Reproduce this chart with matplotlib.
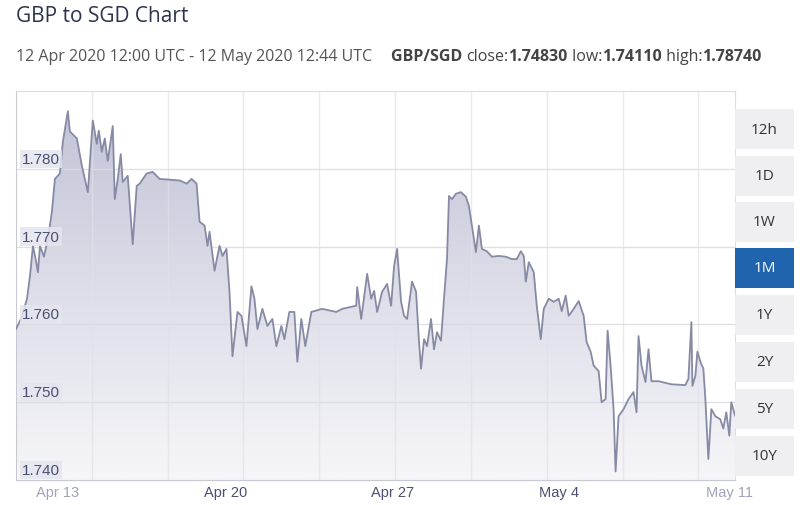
import numpy as np
import matplotlib
matplotlib.use("Agg")
import matplotlib.pyplot as plt
from matplotlib import font_manager
from matplotlib.colors import LinearSegmentedColormap
from matplotlib.patches import Rectangle

# hours since 12 Apr 2020 12:00 UTC
hours = [0, 6, 11, 14, 17, 20, 22, 24, 28, 32, 36, 39, 44, 47, 52, 54, 61, 66, 72, 77,
         81, 83, 86, 89, 92, 97, 99, 102, 105, 107, 112, 117, 121, 124, 131, 137, 144, 164, 171, 176,
         181, 184, 189, 192, 194, 199, 204, 207, 211, 214, 217, 222, 226, 231, 236, 239, 242, 247, 252, 257,
         261, 266, 269, 274, 279, 282, 286, 290, 296, 307, 321, 327, 341, 342, 346, 352, 356, 359, 362, 367,
         372, 376, 379, 382, 386, 389, 392, 397, 401, 404, 406, 409, 412, 416, 419, 422, 426, 429, 432, 434,
         437, 441, 446, 451, 454, 457, 461, 464, 467, 472, 477, 484, 491, 497, 502, 506, 509, 511, 514, 519,
         522, 526, 529, 534, 539, 544, 547, 551, 554, 559, 564, 569, 572, 576, 579, 584, 587, 591, 593, 596,
         599, 601, 604, 609, 614, 619, 622, 624, 627, 631, 634, 637, 644, 657, 671, 674, 677, 678, 681, 683,
         686, 689, 691, 694, 697, 701, 706, 709, 712, 715, 717, 720.7]
rates = [1.7594, 1.7610, 1.7633, 1.7662, 1.7701, 1.7682, 1.7667, 1.7701, 1.7687, 1.7710,
         1.7745, 1.7787, 1.7794, 1.7835, 1.7874, 1.7848, 1.7839, 1.7804, 1.7770, 1.7862,
         1.7832, 1.7849, 1.7822, 1.7839, 1.7810, 1.7855, 1.7761, 1.7787, 1.7819, 1.7783,
         1.7791, 1.7703, 1.7778, 1.7781, 1.7794, 1.7796, 1.7787, 1.7785, 1.7781, 1.7787,
         1.7781, 1.7732, 1.7727, 1.7701, 1.7719, 1.7669, 1.7701, 1.7688, 1.7697, 1.7642,
         1.7559, 1.7616, 1.7611, 1.7572, 1.7649, 1.7633, 1.7594, 1.7620, 1.7598, 1.7607,
         1.7572, 1.7598, 1.7581, 1.7616, 1.7616, 1.7552, 1.7607, 1.7572, 1.7616, 1.7620,
         1.7616, 1.7620, 1.7624, 1.7648, 1.7607, 1.7665, 1.7633, 1.7643, 1.7616, 1.7642,
         1.7652, 1.7624, 1.7675, 1.7697, 1.7629, 1.7611, 1.7607, 1.7655, 1.7642, 1.7577,
         1.7543, 1.7581, 1.7572, 1.7607, 1.7568, 1.7590, 1.7579, 1.7633, 1.7684, 1.7765,
         1.7761, 1.7768, 1.7770, 1.7764, 1.7752, 1.7727, 1.7693, 1.7727, 1.7697, 1.7694,
         1.7687, 1.7688, 1.7687, 1.7684, 1.7684, 1.7694, 1.7688, 1.7655, 1.7680, 1.7667,
         1.7624, 1.7581, 1.7620, 1.7633, 1.7629, 1.7633, 1.7617, 1.7637, 1.7611, 1.7620,
         1.7630, 1.7611, 1.7577, 1.7565, 1.7547, 1.7540, 1.7500, 1.7504, 1.7592, 1.7547,
         1.7491, 1.7411, 1.7482, 1.7491, 1.7504, 1.7513, 1.7487, 1.7585, 1.7547, 1.7526,
         1.7568, 1.7527, 1.7527, 1.7523, 1.7522, 1.7530, 1.7603, 1.7521, 1.7534, 1.7565,
         1.7552, 1.7543, 1.7504, 1.7427, 1.7491, 1.7482, 1.7478, 1.7466, 1.7487, 1.7457,
         1.7500, 1.7483]

y_ticks = [1.740, 1.750, 1.760, 1.770, 1.780]
x_tick_hours = [12, 180, 348, 516, 684]
x_tick_labels = ["Apr 13", "Apr 20", "Apr 27", "May 4", "May 11"]
buttons = ["12h", "1D", "1W", "1M", "1Y", "2Y", "5Y", "10Y"]
active = "1M"

title = "GBP to SGD Chart"
period = "12 Apr 2020 12:00 UTC - 12 May 2020 12:44 UTC"
stats = [("GBP/SGD ", "bold"), ("close:", "normal"), ("1.74830", "bold"), (" low:", "normal"),
         ("1.74110", "bold"), (" high:", "normal"), ("1.78740", "bold")]

names = {f.name for f in font_manager.fontManager.ttflist}
narrow = "Liberation Sans Narrow" if "Liberation Sans Narrow" in names else "Liberation Sans"
plt.rcParams["font.family"] = ["Open Sans", "DejaVu Sans"]

W, H = 800, 506
fig = plt.figure(figsize=(8, 5.06), dpi=100)


def fx(px):
    return px / W


def fy(py):
    return 1 - py / H


left, right, top, bottom = 16, 735, 92, 481
ax = fig.add_axes([fx(left), fy(bottom), fx(right - left), (bottom - top) / H])
span = 720.7
ylo, yhi = 1.740, 1.790

# gradient fill under the line
poly = ax.fill_between(hours, rates, ylo, color="none", lw=0)
cmap = LinearSegmentedColormap.from_list("fill", ["#bfc2d6", "#dcdde8", "#f6f6f9"])
grad = ax.imshow(np.linspace(0, 1, 256).reshape(-1, 1), cmap=cmap, aspect="auto",
                 extent=[0, span, ylo, yhi], origin="upper", zorder=1)
grad.set_clip_path(poly.get_paths()[0], transform=ax.transData)
ax.set_xlim(0, span)
ax.set_ylim(ylo, yhi)

ax.plot(hours, rates, color="#868aa4", lw=1.3, zorder=4)

# grid
for v in y_ticks[1:]:
    ax.axhline(v, color="#d9dae2", lw=1, alpha=0.8, zorder=2)
for k in range(9):
    ax.axvline(684 - 76 * k, color="#e0e1e8", lw=1, alpha=0.7, zorder=2)

for s in ax.spines.values():
    s.set_color("#dcdce2")
ax.spines["left"].set_color("#c8c8d0")
ax.spines["bottom"].set_color("#c8c8d0")
ax.set_xticks([])
ax.set_yticks([])

for v in y_ticks:
    ax.annotate(f"{v:.3f}", xy=(0, v), xycoords=("axes fraction", "data"),
                xytext=(6, 10), textcoords="offset pixels", ha="left", va="center",
                fontsize=11, family=narrow, color="#4b5072", zorder=5,
                bbox=dict(boxstyle="square,pad=0.15", fc="#e4e5ee", ec="none", alpha=0.85))

for h, lab in zip(x_tick_hours, x_tick_labels):
    faded = lab in ("Apr 13", "May 11")
    ax.annotate(lab, xy=(h, 0), xycoords=("data", "axes fraction"),
                xytext=(8, -12), textcoords="offset pixels", ha="left", va="center",
                fontsize=10.5, family=narrow, color="#a0a3b8" if faded else "#4b5072",
                annotation_clip=False)

# range buttons
tops = [110, 157, 203, 249, 296, 343, 390, 437]
for lab, t in zip(buttons, tops):
    on = lab == active
    fig.add_artist(Rectangle((fx(735), fy(t + 40)), fx(59), 40 / H, transform=fig.transFigure,
                             fc="#1f64ad" if on else "#efeff2", ec="none"))
    fig.text(fx(764.5), fy(t + 20), lab, ha="center", va="center", fontsize=11,
             color="white" if on else "#333333")

# header texts
fig.text(fx(16), fy(17), title, ha="left", va="center", fontsize=15, color="#2b3350")
fig.text(fx(16), fy(57), period, ha="left", va="center", fontsize=11.5, color="#555555")
cur = fig.text(fx(391), fy(57), stats[0][0], ha="left", va="center", fontsize=11.5,
               fontweight=stats[0][1], color="#444444")
for txt, wt in stats[1:]:
    cur = ax.annotate(txt, xy=(1, 0), xycoords=cur, ha="left", va="bottom", fontsize=11.5,
                      fontweight=wt, color="#444444", annotation_clip=False)

fig.savefig("out.png", dpi=100)
